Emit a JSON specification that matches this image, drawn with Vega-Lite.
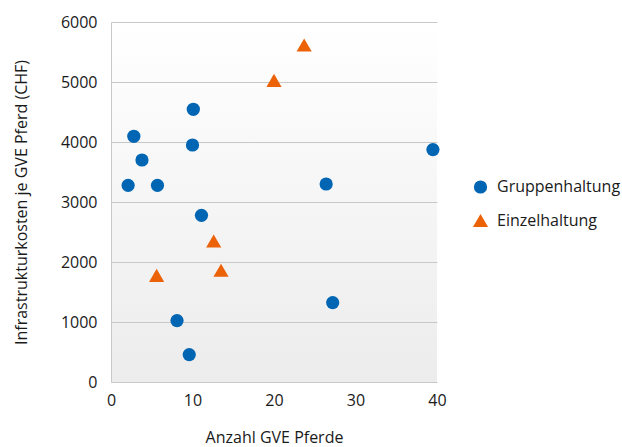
{
  "$schema": "https://vega.github.io/schema/vega-lite/v6.json",
  "autosize": "none",
  "padding": {"left": 111, "top": 22, "right": 185, "bottom": 65},
  "width": 326,
  "height": 360,
  "background": "#ffffff",
  "config": {
    "font": "Open Sans",
    "view": {"stroke": null, "fill": {"gradient": "linear", "x1": 0, "y1": 0, "x2": 0, "y2": 1, "stops": [{"offset": 0, "color": "#ffffff"}, {"offset": 1, "color": "#ececec"}]}},
    "axis": {"labelFont": "Open Sans", "titleFont": "Open Sans", "labelFontSize": 16, "titleFontSize": 16, "labelColor": "#1a1a1a", "titleColor": "#1a1a1a", "titleFontWeight": "normal", "ticks": false, "labelFlush": false, "domainColor": "#c8c8c8", "gridColor": "#c8c8c8"}
  },
  "data": {
    "values": [
      {"x": 2.1, "y": 3278, "typ": "Gruppenhaltung"},
      {"x": 2.8, "y": 4095, "typ": "Gruppenhaltung"},
      {"x": 3.8, "y": 3700, "typ": "Gruppenhaltung"},
      {"x": 5.7, "y": 3278, "typ": "Gruppenhaltung"},
      {"x": 10.1, "y": 4545, "typ": "Gruppenhaltung"},
      {"x": 10.0, "y": 3950, "typ": "Gruppenhaltung"},
      {"x": 11.1, "y": 2778, "typ": "Gruppenhaltung"},
      {"x": 8.1, "y": 1023, "typ": "Gruppenhaltung"},
      {"x": 9.6, "y": 457, "typ": "Gruppenhaltung"},
      {"x": 26.4, "y": 3300, "typ": "Gruppenhaltung"},
      {"x": 27.2, "y": 1323, "typ": "Gruppenhaltung"},
      {"x": 39.5, "y": 3873, "typ": "Gruppenhaltung"},
      {"x": 5.6, "y": 1778, "typ": "Einzelhaltung"},
      {"x": 12.6, "y": 2350, "typ": "Einzelhaltung"},
      {"x": 13.5, "y": 1862, "typ": "Einzelhaltung"},
      {"x": 20.0, "y": 5028, "typ": "Einzelhaltung"},
      {"x": 23.7, "y": 5617, "typ": "Einzelhaltung"}
    ]
  },
  "mark": {"type": "point", "filled": true, "opacity": 1},
  "encoding": {
    "x": {"field": "x", "type": "quantitative", "scale": {"domain": [0, 40], "nice": false}, "axis": {"values": [0, 10, 20, 30, 40], "grid": false, "domain": false, "labelPadding": 10, "title": "Anzahl GVE Pferde", "titlePadding": 21}},
    "y": {"field": "y", "type": "quantitative", "scale": {"domain": [0, 6000], "nice": false}, "axis": {"values": [0, 1000, 2000, 3000, 4000, 5000, 6000], "format": "d", "grid": true, "domain": true, "labelPadding": 14, "title": "Infrastrukturkosten  je GVE Pferd (CHF)", "titlePadding": 31}},
    "color": {"field": "typ", "type": "nominal", "scale": {"domain": ["Gruppenhaltung", "Einzelhaltung"], "range": ["#0066b3", "#eb6209"]}, "legend": {"orient": "none", "legendX": 361, "legendY": 157, "title": null, "labelFont": "Open Sans", "labelFontSize": 16, "labelColor": "#1a1a1a", "symbolSize": 175, "rowPadding": 17, "labelOffset": 8}},
    "shape": {"field": "typ", "type": "nominal", "scale": {"domain": ["Gruppenhaltung", "Einzelhaltung"], "range": ["circle", "triangle-up"]}, "legend": null},
    "size": {"field": "typ", "type": "nominal", "scale": {"domain": ["Gruppenhaltung", "Einzelhaltung"], "range": [175, 230]}, "legend": null}
  }
}
